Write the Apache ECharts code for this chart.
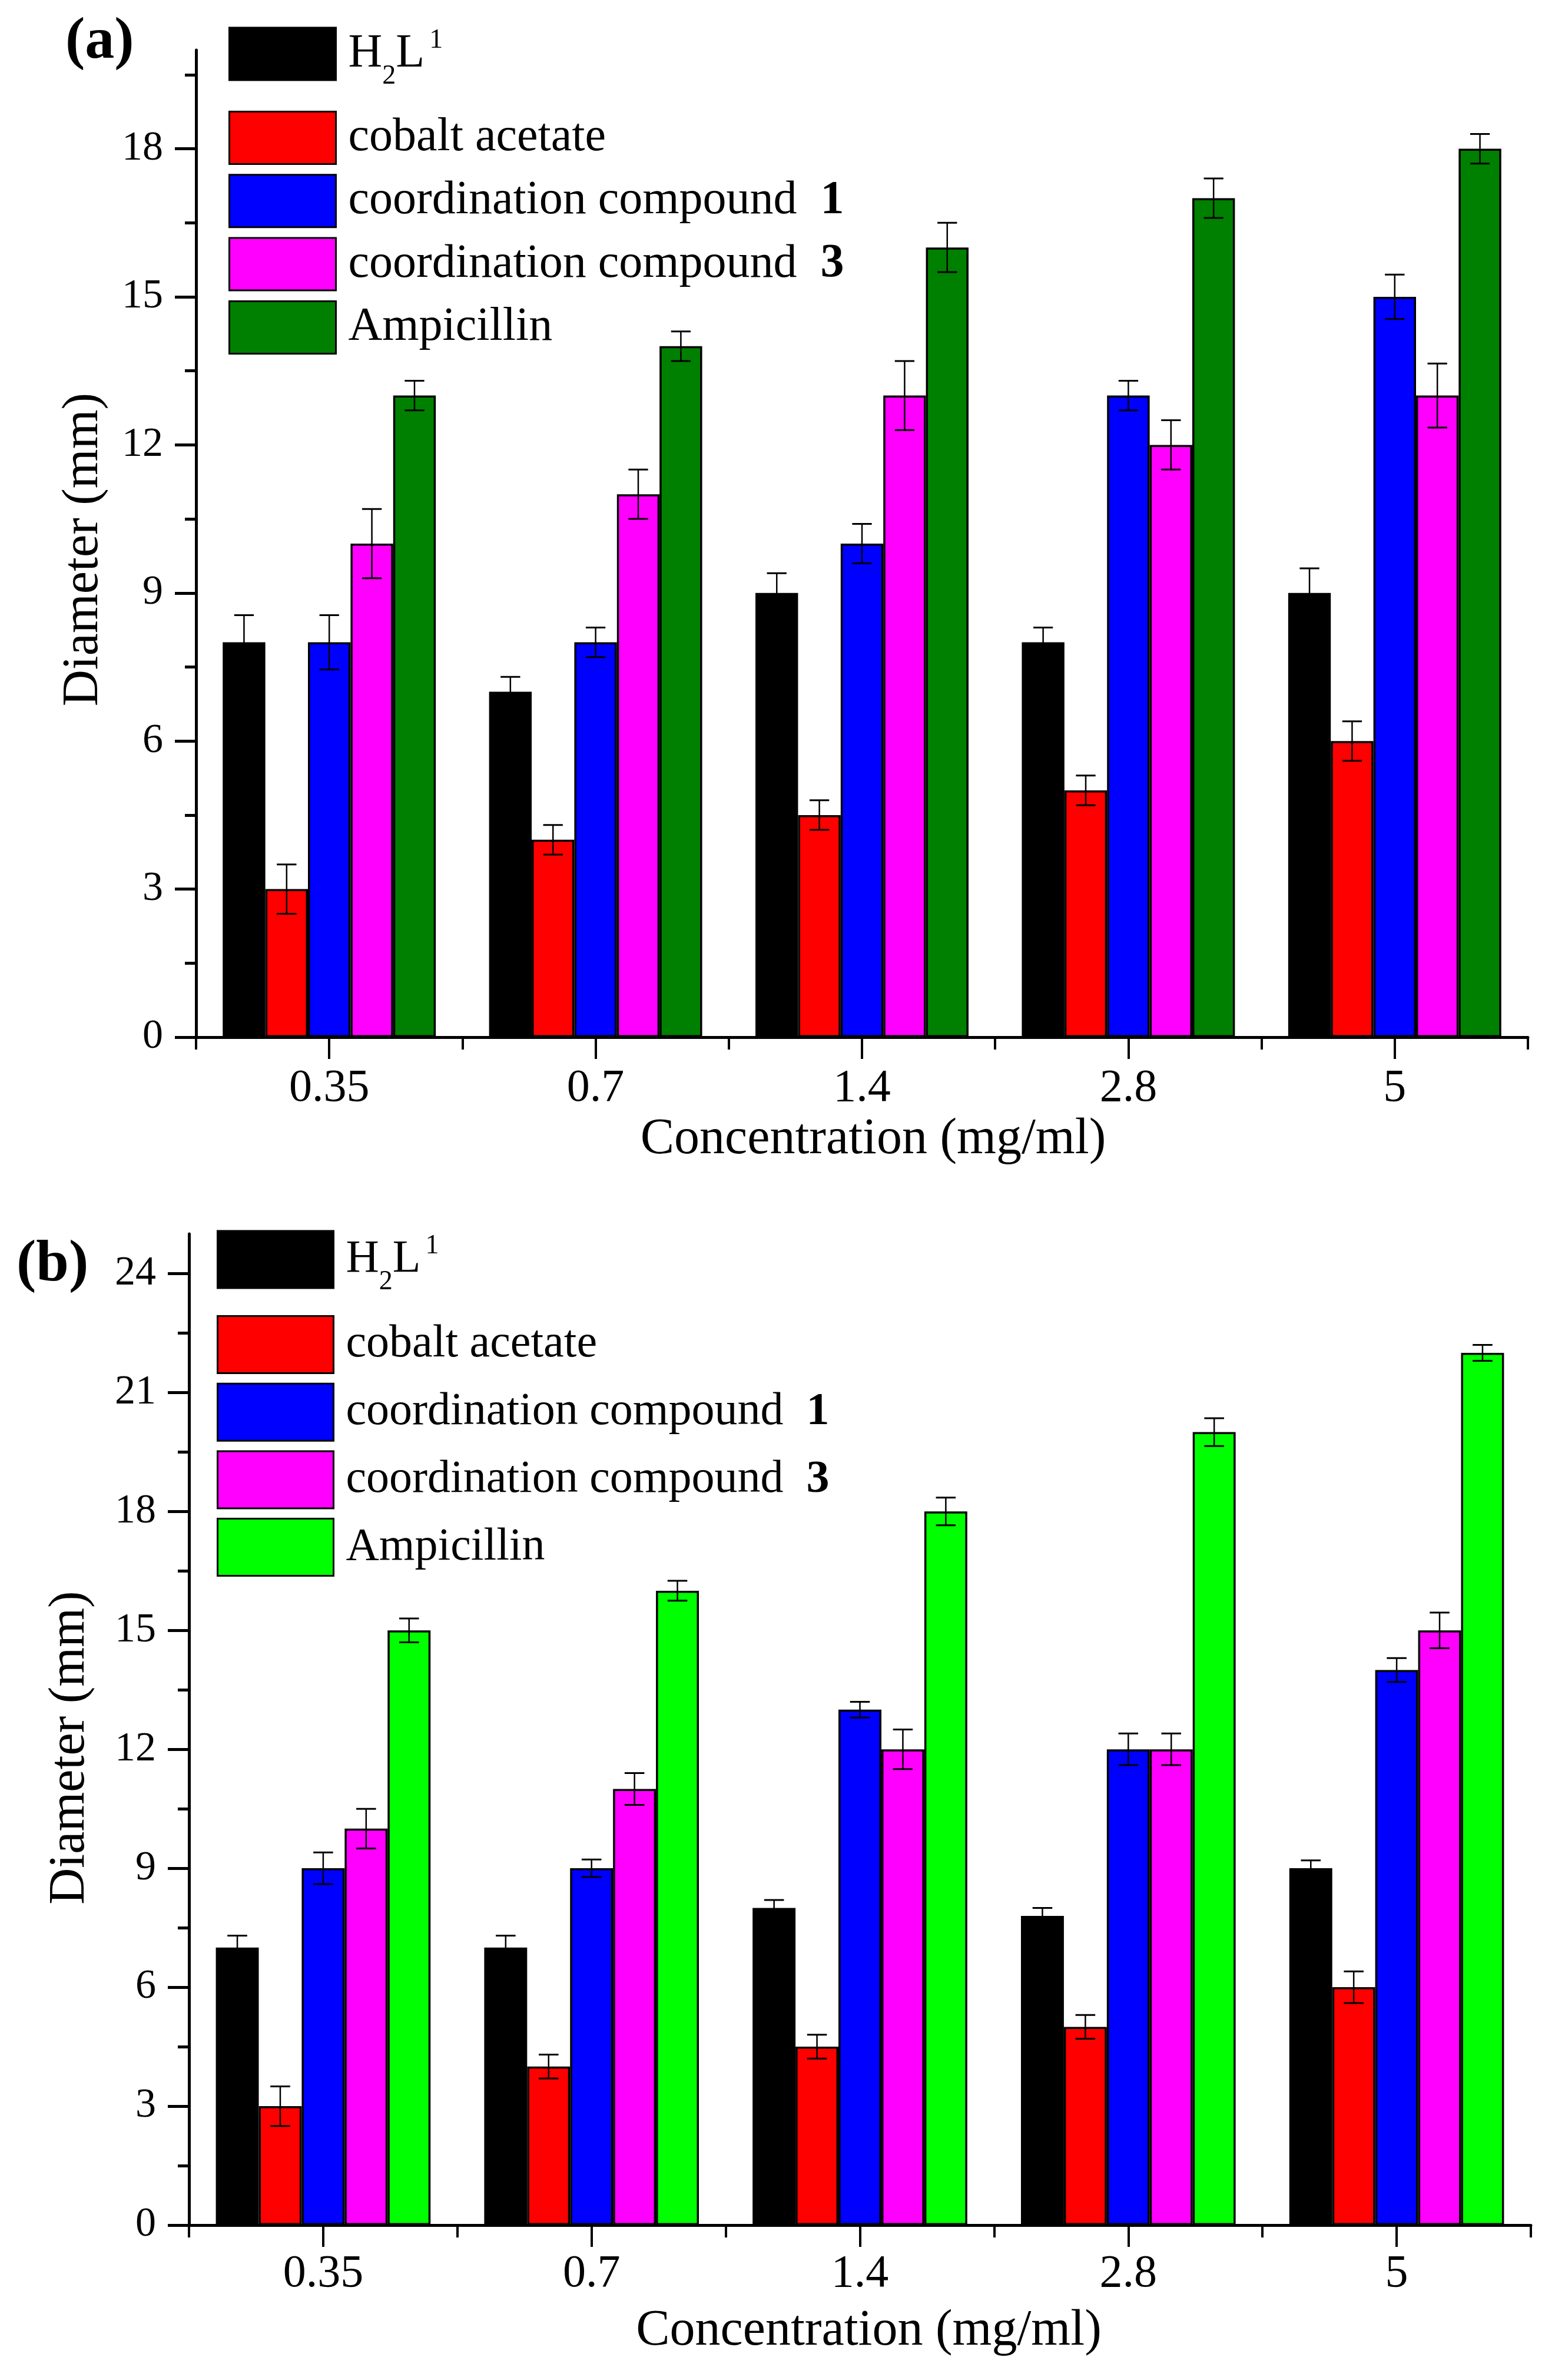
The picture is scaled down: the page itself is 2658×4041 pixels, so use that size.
<!DOCTYPE html>
<html>
<head>
<meta charset="utf-8">
<script src="https://cdn.jsdelivr.net/npm/echarts@6/dist/echarts.min.js"></script>
<style>
html, body { margin: 0; padding: 0; background: #fff; }
#main { width: 2658px; height: 4041px; }
</style>
</head>
<body>
<div id="main"></div>
<script>
var concentrations = ['0.35', '0.7', '1.4', '2.8', '5'];
var seriesNames = ['H2L1', 'cobalt acetate', 'coordination compound 1', 'coordination compound 3', 'Ampicillin'];

// panel (a)
var aH2L = [8, 7, 9, 8, 9];
var aCobalt = [3, 4, 4.5, 5, 6];
var aComp1 = [8, 8, 10, 13, 15];
var aComp3 = [10, 11, 13, 12, 13];
var aAmp = [13, 14, 16, 17, 18];
var aH2LErr = [0.55, 0.3, 0.4, 0.3, 0.5];
var aCobaltErr = [0.5, 0.3, 0.3, 0.3, 0.4];
var aComp1Err = [0.55, 0.3, 0.4, 0.3, 0.45];
var aComp3Err = [0.7, 0.5, 0.7, 0.5, 0.65];
var aAmpErr = [0.3, 0.3, 0.5, 0.4, 0.3];

// panel (b)
var bH2L = [7, 7, 8, 7.8, 9];
var bCobalt = [3, 4, 4.5, 5, 6];
var bComp1 = [9, 9, 13, 12, 14];
var bComp3 = [10, 11, 12, 12, 15];
var bAmp = [15, 16, 18, 20, 22];
var bH2LErr = [0.3, 0.3, 0.2, 0.2, 0.2];
var bCobaltErr = [0.5, 0.3, 0.3, 0.3, 0.4];
var bComp1Err = [0.4, 0.22, 0.2, 0.4, 0.3];
var bComp3Err = [0.5, 0.4, 0.5, 0.4, 0.45];
var bAmpErr = [0.3, 0.25, 0.35, 0.35, 0.2];

// y axis ticks
var yTicksA = [0, 3, 6, 9, 12, 15, 18];
var yMinorA = [1.5, 4.5, 7.5, 10.5, 13.5, 16.5, 19.5];
var yTicksB = [0, 3, 6, 9, 12, 15, 18, 21, 24];
var yMinorB = [1.5, 4.5, 7.5, 10.5, 13.5, 16.5, 19.5, 22.5];

var colorsA = ['#000000', '#ff0000', '#0000ff', '#ff00ff', '#008000'];
var colorsB = ['#000000', '#ff0000', '#0000ff', '#ff00ff', '#00ff00'];

var valuesA = [aH2L, aCobalt, aComp1, aComp3, aAmp];
var errorsA = [aH2LErr, aCobaltErr, aComp1Err, aComp3Err, aAmpErr];
var valuesB = [bH2L, bCobalt, bComp1, bComp3, bAmp];
var errorsB = [bH2LErr, bCobaltErr, bComp1Err, bComp3Err, bAmpErr];

var FONT = 'Liberation Serif';

var chart = echarts.init(document.getElementById('main'));

function errItems(values, errors) {
    var out = [];
    for (var s = 0; s < values.length; s++) {
        for (var c = 0; c < values[s].length; c++) {
            out.push([c, values[s][c], errors[s][c], s]);
        }
    }
    return out;
}

function renderErr(params, api) {
    var cat = api.value(0), val = api.value(1), err = api.value(2), idx = api.value(3);
    var band = api.size([1, 0])[0];
    var barW = band * 0.8 / 5;
    var x = api.coord([cat, val])[0] + (idx - 2) * barW;
    var hi = api.coord([cat, val + err])[1];
    var lo = api.coord([cat, val - err])[1];
    var half = barW * 0.23;
    var st = { stroke: '#000', lineWidth: 2.5 };
    return {
        type: 'group',
        children: [
            { type: 'line', shape: { x1: x, y1: hi, x2: x, y2: lo }, style: st },
            { type: 'line', shape: { x1: x - half, y1: hi, x2: x + half, y2: hi }, style: { stroke: '#000', lineWidth: 3 } },
            { type: 'line', shape: { x1: x - half, y1: lo, x2: x + half, y2: lo }, style: { stroke: '#000', lineWidth: 3 } }
        ]
    };
}

function legendFormatter(name) {
    if (name === 'H2L1') return '{n|H}{sub|2}{n|L}{sup|1}';
    if (name === 'coordination compound 1') return 'coordination compound  {b|1}';
    if (name === 'coordination compound 3') return 'coordination compound  {b|3}';
    return name;
}

function legendRich(fs) {
    return {
        n: { fontFamily: FONT, fontSize: fs, lineHeight: 123, verticalAlign: 'middle', color: '#000' },
        sub: { fontFamily: FONT, fontSize: 46, verticalAlign: 'bottom', color: '#000' },
        sup: { fontFamily: FONT, fontSize: 46, verticalAlign: 'top', padding: [16, 0, 0, 8], color: '#000' },
        b: { fontFamily: FONT, fontSize: fs, fontWeight: 'bold', color: '#000' }
    };
}

function makeLegends(left, topFirst, topRest, w, h, gap, fs, colors) {
    var base = {
        orient: 'vertical',
        left: left,
        padding: 0,
        itemWidth: w,
        itemHeight: h,
        itemGap: gap,
        icon: 'rect',
        selectedMode: false,
        formatter: legendFormatter,
        itemStyle: { borderColor: '#000', borderWidth: 3 },
        textStyle: { fontFamily: FONT, fontSize: fs, color: '#000', padding: [0, 0, 0, 16], rich: legendRich(fs) }
    };
    var first = Object.assign({}, base, {
        top: topFirst,
        data: [{ name: seriesNames[0], itemStyle: { color: colors[0] } }]
    });
    var rest = Object.assign({}, base, {
        top: topRest,
        data: seriesNames.slice(1).map(function (n, i) {
            return { name: n, itemStyle: { color: colors[i + 1] } };
        })
    });
    return [first, rest];
}

function mainX(grid, labelMargin, nameGap, namePadLeft) {
    return {
        type: 'category', gridIndex: grid, data: concentrations, position: 'bottom',
        boundaryGap: true,
        axisLine: { show: true, lineStyle: { color: '#000', width: 5 } },
        axisTick: { show: true, alignWithLabel: true, length: 37, lineStyle: { color: '#000', width: 4 } },
        axisLabel: { fontFamily: FONT, fontSize: 78, color: '#000', margin: labelMargin },
        splitLine: { show: false },
        name: 'Concentration (mg/ml)', nameLocation: 'middle', nameGap: nameGap,
        nameTextStyle: { fontFamily: FONT, fontSize: 86, color: '#000', padding: [0, 0, 0, namePadLeft] }
    };
}

function minorX(grid) {
    return {
        type: 'category', gridIndex: grid, data: concentrations, position: 'bottom',
        boundaryGap: true,
        axisLine: { show: false },
        axisTick: { show: true, alignWithLabel: false, length: 21, lineStyle: { color: '#000', width: 4 } },
        axisLabel: { show: false },
        splitLine: { show: false }
    };
}

function mainY(grid, max, ticks, nameGap, namePadRight) {
    return {
        type: 'value', gridIndex: grid, min: 0, max: max, interval: 3, position: 'left',
        axisLine: { show: true, lineStyle: { color: '#000', width: 5 } },
        axisTick: { show: true, length: 36, customValues: ticks, lineStyle: { color: '#000', width: 5 } },
        axisLabel: { fontFamily: FONT, fontSize: 70, color: '#000', margin: 56, customValues: ticks },
        splitLine: { show: false },
        name: 'Diameter (mm)', nameLocation: 'middle', nameGap: nameGap,
        nameTextStyle: { fontFamily: FONT, fontSize: 86, color: '#000', padding: [0, namePadRight, 0, 0] }
    };
}

function minorY(grid, max, ticks) {
    return {
        type: 'value', gridIndex: grid, min: 0, max: max, interval: 1.5, position: 'left',
        axisLine: { show: false },
        axisTick: { show: true, length: 19, customValues: ticks, lineStyle: { color: '#000', width: 5 } },
        axisLabel: { show: false },
        splitLine: { show: false }
    };
}

function barSeries(values, colors, xi, yi) {
    return values.map(function (vals, i) {
        return {
            type: 'bar', name: seriesNames[i], xAxisIndex: xi, yAxisIndex: yi,
            data: vals, barGap: '0%', barCategoryGap: '20%',
            itemStyle: { color: colors[i], borderColor: '#000', borderWidth: 3.5 },
            emphasis: { disabled: true }
        };
    });
}

var legendsA = makeLegends(388, 45.5, 188, 181, 89, 15.3, 80, colorsA);
var legendsB = makeLegends(368, 2088.5, 2233, 197, 97, 14.7, 78, colorsB);

var option = {
    backgroundColor: '#fff',
    animation: false,
    title: [
        { text: '(a)', left: 111, top: 22, padding: 0, textStyle: { fontFamily: FONT, fontSize: 100, fontWeight: 'bold', color: '#000' } },
        { text: '(b)', left: 28, top: 2098, padding: 0, textStyle: { fontFamily: FONT, fontSize: 100, fontWeight: 'bold', color: '#000' } }
    ],
    legend: legendsA.concat(legendsB),
    grid: [
        { left: 333, top: 85, width: 2262, height: 1676 },
        { left: 321, top: 2095, width: 2279, height: 1683 }
    ],
    xAxis: [mainX(0, 49, 131, 38), minorX(0), mainX(1, 45, 137, 30), minorX(1)],
    yAxis: [mainY(0, 20, yTicksA, 148, 20), minorY(0, 20, yMinorA), mainY(1, 25, yTicksB, 159, 62), minorY(1, 25, yMinorB)],
    series: barSeries(valuesA, colorsA, 0, 0).concat(barSeries(valuesB, colorsB, 2, 2)).concat([
        {
            type: 'custom', name: 'errA', xAxisIndex: 0, yAxisIndex: 0, z: 5,
            renderItem: renderErr, data: errItems(valuesA, errorsA), silent: true
        },
        {
            type: 'custom', name: 'errB', xAxisIndex: 2, yAxisIndex: 2, z: 5,
            renderItem: renderErr, data: errItems(valuesB, errorsB), silent: true
        }
    ])
};

option && chart.setOption(option);
</script>
</body>
</html>
